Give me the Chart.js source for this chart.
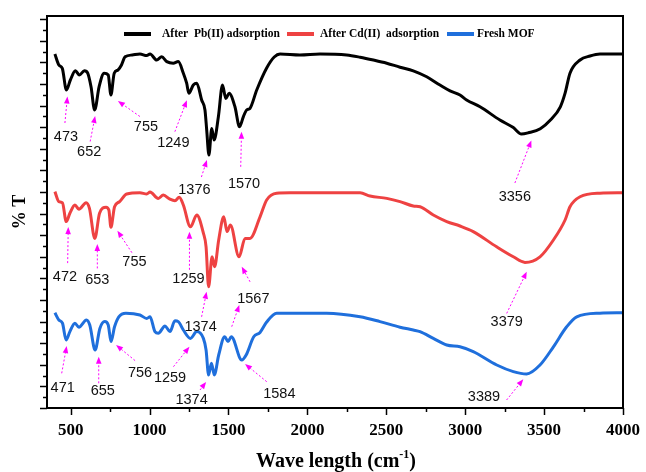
<!DOCTYPE html>
<html>
<head>
<meta charset="utf-8">
<script src="https://cdn.jsdelivr.net/npm/chart.js@4.4.1/dist/chart.umd.min.js"></script>
<style>
  html, body { margin: 0; padding: 0; background: #fff; }
  #wrap { width: 646px; height: 472px; }
</style>
</head>
<body>
<div id="wrap"><canvas id="ftir" width="646" height="472"></canvas></div>
<script>
// FTIR spectra, wavenumber (cm-1) vs stacked transmittance (%T, arbitrary offset)
const pbWave = [400, 425, 447, 473, 498, 530, 555, 587, 608, 629, 652, 680, 712, 738, 755, 776, 800, 822, 845, 890,
  939, 982, 1003, 1045, 1077, 1109, 1150, 1182, 1214, 1235, 1249, 1277, 1299, 1330, 1351, 1362, 1376, 1394, 1409, 1436,
  1462, 1483, 1504, 1541, 1570, 1594, 1615, 1636, 1679, 1742, 1790, 1827, 1953, 2080, 2249, 2334, 2418, 2503, 2587, 2671,
  2756, 2840, 2904, 2967, 3009, 3094, 3220, 3305, 3356, 3400, 3476, 3540, 3603, 3633, 3664, 3728, 3791, 3854, 4000];
const pbT = [88.5, 85.75, 84.9, 79.5, 82, 84.3, 83.25, 84.3, 83.7, 80.3, 74.5, 80.3, 83.7, 83.25, 78.25, 83.7, 84.5, 85.75, 87.8, 88.25,
  88.5, 88.1, 88.5, 87, 87.8, 86.6, 86.2, 86.6, 83.7, 81.2, 78.7, 80.75, 81.2, 77, 74.5, 69.5, 63.25, 69.9, 67, 72.8,
  80.75, 77.4, 78.7, 75.3, 70.3, 72.8, 74.5, 74.9, 79.5, 85, 87.75, 88.5, 88.25, 88.5, 88.25, 87.7, 87, 86.2, 85.2, 84.3,
  82.8, 80.75, 79.3, 78.25, 77, 75.3, 72, 70.1, 68.5, 68.8, 69.8, 72, 75.3, 78.7, 83.7, 87, 88, 88.5, 88.5];

const cdWave = [400, 425, 448, 472, 495, 527, 552, 598, 619, 653, 683, 724, 742, 755, 778, 810, 855, 939, 982, 1003,
  1055, 1087, 1129, 1161, 1188, 1214, 1259, 1299, 1341, 1358, 1374, 1396, 1412, 1438, 1470, 1491, 1512, 1567, 1605, 1636,
  1700, 1742, 1805, 1890, 2017, 2334, 2397, 2503, 2587, 2671, 2714, 2798, 2883, 2967, 3051, 3199, 3305, 3379, 3474, 3559,
  3633, 3664, 3728, 3854, 4000];
const cdT = [54.1, 51.6, 51.3, 46.6, 48.7, 50.75, 49.7, 51.3, 49.9, 42.4, 48.7, 50.2, 49.5, 45.2, 50.3, 51.6, 53.5, 53.8, 53.5, 54,
  52.4, 53.25, 52.2, 51.8, 52.7, 50.75, 45.3, 48.25, 43.7, 40.3, 30.3, 37.8, 35.3, 42, 47.8, 44.1, 45.75, 37.8, 42.4, 42.4,
  47.8, 52, 53.7, 53.8, 53.8, 53.8, 53, 52.4, 51.6, 50.5, 50.3, 48.25, 46.6, 45.5, 44.1, 40.3, 37.8, 36.4, 37.8, 42,
  47, 50.3, 52.8, 53.7, 53.8];

const mofWave = [400, 425, 448, 471, 495, 527, 552, 600, 621, 655, 685, 716, 738, 756, 778, 805, 850, 939, 982, 1003,
  1034, 1055, 1098, 1129, 1161, 1182, 1214, 1259, 1299, 1341, 1358, 1374, 1392, 1410, 1438, 1476, 1497, 1518, 1584, 1612,
  1660, 1700, 1742, 1805, 2122, 2334, 2460, 2587, 2671, 2714, 2798, 2883, 2967, 3051, 3200, 3305, 3389, 3474, 3559, 3643,
  3707, 3854, 4000];
const mofT = [23.8, 22, 21.2, 17, 19.1, 21.2, 20.2, 22, 20.75, 14.5, 19.9, 21.6, 20.75, 16.6, 20.3, 22.8, 23.7, 23.25, 22.4, 22.8,
  19.1, 18.7, 20.5, 19.1, 21.8, 21.6, 19.5, 17.4, 19.1, 17.4, 14.5, 8.25, 11.2, 8.25, 13.25, 17.8, 16.6, 17.8, 12, 13.25,
  17.8, 18.9, 21.5, 23.7, 23.7, 22.8, 21.6, 20.2, 19.5, 19.1, 17.4, 15.75, 15.3, 14.1, 10.75, 9.1, 8.5, 10.75, 15.3, 20.3,
  22.8, 23.7, 23.8];

// labelled band positions
const pbPeaks = [473, 652, 755, 1249, 1376, 1570, 3356];
const cdPeaks = [472, 653, 755, 1259, 1374, 1567, 3379];
const mofPeaks = [471, 655, 756, 1259, 1374, 1584, 3389];

const xTicks = [500, 1000, 1500, 2000, 2500, 3000, 3500, 4000];
const xMinorStep = 250;
const yTickStep = 2.7;

const seriesNames = ['After  Pb(II) adsorption', 'After Cd(II)  adsorption', 'Fresh MOF'];
const seriesColors = ['#000000', '#ee4242', '#1f6fdc'];

// callout geometry in px, relative to the band point on the curve
const calloutLayout = {
  pb: {
    473: { head: [1, 6.5], tail: [-1.5, 33], label: [-0.5, 47] },
    652: { head: [0.5, 6], tail: [-4.5, 31.5], label: [-5.5, 41.5] },
    755: { head: [7, 6], tail: [29, 21.5], label: [35, 32] },
    1249: { head: [-2, 7], tail: [-14, 38.5], label: [-15.5, 49.5] },
    1376: { head: [-2, 5], tail: [-7.5, 22], label: [-14.5, 35] },
    1570: { head: [2, 5], tail: [1.2, 40], label: [4.5, 57] },
    3356: { head: [10, 6.5], tail: [-6.5, 49], label: [-6.5, 62.5] }
  },
  cd: {
    472: { head: [2, 5.5], tail: [1.4, 41.5], label: [-1.3, 55.5] },
    653: { head: [2.5, 5.5], tail: [2.5, 30], label: [2.5, 41.5] },
    755: { head: [6.5, 3.5], tail: [21, 25.5], label: [23.5, 34.5] },
    1259: { head: [-1, 5], tail: [-1, 43], label: [-2, 52.5] },
    1374: { head: [-2, 5], tail: [-7, 30], label: [-8, 40.5] },
    1567: { head: [2.7, 10], tail: [11, 25], label: [14.3, 42.5] },
    3379: { head: [1.7, 9.3], tail: [-18.3, 51], label: [-18.3, 60] }
  },
  mof: {
    471: { head: [0.6, 6], tail: [-4.4, 33.3], label: [-3.4, 47.7] },
    655: { head: [3.6, 6.7], tail: [3.6, 33.3], label: [7.6, 41] },
    756: { head: [5, 3.4], tail: [24, 19], label: [29, 31] },
    1259: { head: [-1, 8.3], tail: [-17, 28.3], label: [-20.4, 40] },
    1374: { head: [-2.5, 7], tail: [-8.6, 15], label: [-17, 25] },
    1518: { head: [8, -31.8], tail: [0.4, -10.1] },
    1584: { head: [3.3, 4], tail: [25, 21.7], label: [37.6, 34.3] },
    3389: { head: [-3.3, 5.3], tail: [-20, 26], label: [-42.6, 23] }
  }
};

const series = [
  { key: 'pb', wave: pbWave, t: pbT, peaks: pbPeaks },
  { key: 'cd', wave: cdWave, t: cdT, peaks: cdPeaks },
  { key: 'mof', wave: mofWave, t: mofT, peaks: mofPeaks }
];

const serif = '"Liberation Serif", "Times New Roman", serif';
const sans = '"Liberation Sans", Arial, sans-serif';
const pink = '#ff00ff';

function drawArrow(ctx, x0, y0, x1, y1) {
  const ang = Math.atan2(y1 - y0, x1 - x0);
  const len = 7, half = 2.8;
  const bx = x1 - len * Math.cos(ang), by = y1 - len * Math.sin(ang);
  ctx.setLineDash([2, 2]);
  ctx.beginPath();
  ctx.moveTo(x0, y0);
  ctx.lineTo(bx, by);
  ctx.stroke();
  ctx.setLineDash([]);
  ctx.beginPath();
  ctx.moveTo(x1, y1);
  ctx.lineTo(bx + half * Math.sin(ang), by - half * Math.cos(ang));
  ctx.lineTo(bx - half * Math.sin(ang), by + half * Math.cos(ang));
  ctx.closePath();
  ctx.fill();
}

const ftirFrame = {
  id: 'ftirFrame',
  afterDatasetsDraw(chart) {
    const { ctx, chartArea: a, scales: { x, y } } = chart;
    ctx.save();

    // band callouts
    ctx.lineWidth = 1;
    series.forEach(s => {
      const lay = calloutLayout[s.key];
      Object.keys(lay).forEach(k => {
        const at = Number(k);
        const i = s.wave.indexOf(at);
        const px = x.getPixelForValue(at);
        const py = y.getPixelForValue(s.t[i]);
        const c = lay[k];
        ctx.strokeStyle = pink;
        ctx.fillStyle = pink;
        drawArrow(ctx, px + c.tail[0], py + c.tail[1], px + c.head[0], py + c.head[1]);
        if (c.label && s.peaks.includes(at)) {
          ctx.fillStyle = '#111';
          ctx.font = '14.5px ' + sans;
          ctx.textAlign = 'center';
          ctx.textBaseline = 'middle';
          ctx.fillText(String(at), px + c.label[0], py + c.label[1]);
        }
      });
    });

    // frame
    ctx.strokeStyle = '#000';
    ctx.fillStyle = '#000';
    ctx.lineWidth = 2;
    ctx.strokeRect(a.left, a.top, a.right - a.left, a.bottom - a.top);

    // x ticks + labels
    ctx.lineWidth = 1.5;
    for (let v = xTicks[0]; v <= x.max; v += xMinorStep) {
      const px = Math.round(x.getPixelForValue(v)) + 0.5;
      const major = xTicks.includes(v);
      ctx.beginPath();
      ctx.moveTo(px, a.bottom);
      ctx.lineTo(px, a.bottom + (major ? 7 : 4));
      ctx.stroke();
    }
    ctx.font = 'bold 17px ' + serif;
    ctx.textAlign = 'center';
    ctx.textBaseline = 'middle';
    xTicks.forEach(v => ctx.fillText(String(v), x.getPixelForValue(v), 431));

    // y ticks (no labels)
    for (let k = 0; k * yTickStep <= y.max; k++) {
      const py = Math.round(y.getPixelForValue(k * yTickStep)) + 0.5;
      ctx.beginPath();
      ctx.moveTo(a.left, py);
      ctx.lineTo(a.left - (k % 2 === 0 ? 7 : 4), py);
      ctx.stroke();
    }

    // axis titles
    ctx.save();
    ctx.translate(20, 212);
    ctx.rotate(-Math.PI / 2);
    ctx.font = 'bold 18px ' + serif;
    ctx.fillText('% T', 0, 0);
    ctx.restore();

    const main = 'Wave length (cm', sup = '-1', tail = ')';
    ctx.font = 'bold 20px ' + serif;
    const w1 = ctx.measureText(main).width, w3 = ctx.measureText(tail).width;
    ctx.font = 'bold 12px ' + serif;
    const w2 = ctx.measureText(sup).width;
    let tx = 336 - (w1 + w2 + w3) / 2;
    ctx.textAlign = 'left';
    ctx.textBaseline = 'alphabetic';
    ctx.font = 'bold 20px ' + serif;
    ctx.fillText(main, tx, 467);
    ctx.font = 'bold 12px ' + serif;
    ctx.fillText(sup, tx + w1, 458);
    ctx.font = 'bold 20px ' + serif;
    ctx.fillText(tail, tx + w1 + w2, 467);

    // legend
    const legX = [124, 287, 447];
    ctx.font = 'bold 11.5px ' + serif;
    ctx.textBaseline = 'middle';
    seriesNames.forEach((name, i) => {
      ctx.strokeStyle = seriesColors[i];
      ctx.lineWidth = 4;
      ctx.beginPath();
      ctx.moveTo(legX[i], 34);
      ctx.lineTo(legX[i] + 27, 34);
      ctx.stroke();
      ctx.fillStyle = '#000';
      ctx.fillText(name, legX[i] + (i === 0 ? 38 : i === 1 ? 33 : 30), 34);
    });

    ctx.restore();
  }
};

new Chart(document.getElementById('ftir'), {
  type: 'scatter',
  data: {
    datasets: series.map((s, i) => ({
      label: seriesNames[i],
      data: s.wave.map((w, j) => ({ x: w, y: s.t[j] })),
      showLine: true,
      borderColor: seriesColors[i],
      backgroundColor: seriesColors[i],
      borderWidth: 3,
      pointRadius: 0,
      cubicInterpolationMode: 'monotone'
    }))
  },
  options: {
    responsive: false,
    devicePixelRatio: 1,
    animation: false,
    layout: { padding: { left: 47, top: 16, right: 23, bottom: 64 } },
    scales: {
      x: { type: 'linear', min: 350, max: 4000, display: false },
      y: { type: 'linear', min: 0, max: 98, display: false }
    },
    plugins: { legend: { display: false }, tooltip: { enabled: false } }
  },
  plugins: [ftirFrame]
});
</script>
</body>
</html>
